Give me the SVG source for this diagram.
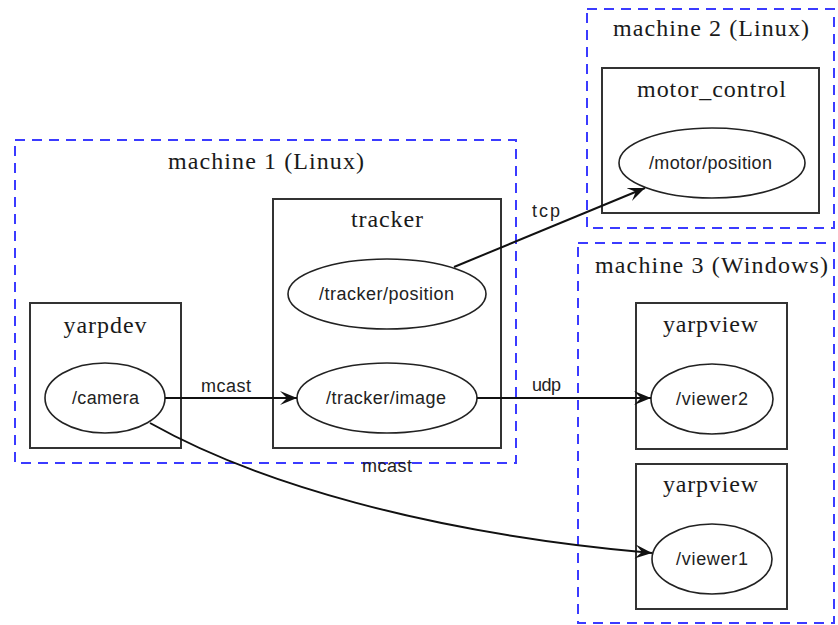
<svg xmlns="http://www.w3.org/2000/svg" width="838" height="625" viewBox="0 0 838 625">
  <style>
    .machine { fill: none; stroke: #3b3bff; stroke-width: 2; stroke-dasharray: 10 7; }
    .proc { fill: #ffffff; stroke: #333333; stroke-width: 2; }
    .port { fill: #ffffff; stroke: #222222; stroke-width: 1.6; }
    .title { font-family: "Liberation Serif", "Times New Roman", serif; font-size: 24px; fill: #1a1a1a; text-anchor: middle; }
    .label { font-family: "Liberation Sans", Arial, sans-serif; font-size: 18px; fill: #222222; text-anchor: middle; }
    .edge { fill: none; stroke: #111111; stroke-width: 2; marker-end: url(#vee); }
  </style>
  <defs>
    <marker id="vee" viewBox="0 0 17 15" refX="17" refY="7.5" markerWidth="17" markerHeight="15" markerUnits="userSpaceOnUse" orient="auto">
      <path d="M0,0.5 L17,7.5 L0,14.5 L7,7.5 Z" fill="#111111"/>
    </marker>
  </defs>
  <rect width="838" height="625" fill="#ffffff"/>

  <!-- machine clusters -->
  <g id="machine1">
    <rect class="machine" x="15" y="140" width="501" height="323"/>
    <text class="title" x="266" y="169" textLength="196" lengthAdjust="spacing">machine 1 (Linux)</text>
  </g>
  <g id="machine2">
    <rect class="machine" x="587" y="9" width="247" height="219"/>
    <text class="title" x="711" y="36" textLength="196" lengthAdjust="spacing">machine 2 (Linux)</text>
  </g>
  <g id="machine3">
    <rect class="machine" x="578" y="243" width="256" height="380"/>
    <text class="title" x="711.5" y="273" textLength="233" lengthAdjust="spacing">machine 3 (Windows)</text>
  </g>

  <!-- processes and their ports -->
  <g id="yarpdev">
    <rect class="proc" x="30" y="303" width="151" height="145"/>
    <text class="title" x="105" y="333" textLength="83" lengthAdjust="spacing">yarpdev</text>
    <ellipse class="port" cx="105" cy="398" rx="60" ry="35"/>
    <text class="label" x="105.5" y="404" textLength="67" lengthAdjust="spacing">/camera</text>
  </g>
  <g id="tracker">
    <rect class="proc" x="273" y="199" width="228" height="249"/>
    <text class="title" x="387" y="227" textLength="72" lengthAdjust="spacing">tracker</text>
    <ellipse class="port" cx="387" cy="294" rx="99" ry="35"/>
    <text class="label" x="386.5" y="300" textLength="135" lengthAdjust="spacing">/tracker/position</text>
    <ellipse class="port" cx="387" cy="398" rx="90" ry="35"/>
    <text class="label" x="386" y="404" textLength="120" lengthAdjust="spacing">/tracker/image</text>
  </g>
  <g id="motor_control">
    <rect class="proc" x="602" y="68" width="217" height="145"/>
    <text class="title" x="711.5" y="97" textLength="149" lengthAdjust="spacing">motor_control</text>
    <ellipse class="port" cx="712" cy="163" rx="93" ry="35"/>
    <text class="label" x="710.5" y="169" textLength="123" lengthAdjust="spacing">/motor/position</text>
  </g>
  <g id="yarpview2">
    <rect class="proc" x="636" y="303" width="151" height="146"/>
    <text class="title" x="710.5" y="332" textLength="95" lengthAdjust="spacing">yarpview</text>
    <ellipse class="port" cx="712" cy="399" rx="61" ry="35"/>
    <text class="label" x="712" y="405" textLength="72" lengthAdjust="spacing">/viewer2</text>
  </g>
  <g id="yarpview1">
    <rect class="proc" x="636" y="464" width="151" height="145"/>
    <text class="title" x="710.5" y="492" textLength="95" lengthAdjust="spacing">yarpview</text>
    <ellipse class="port" cx="712" cy="559" rx="60" ry="35"/>
    <text class="label" x="712" y="565" textLength="72" lengthAdjust="spacing">/viewer1</text>
  </g>

  <!-- connections -->
  <g id="connectors">
    <path class="edge" d="M165,398 L297,398"/>
    <text class="label" x="226" y="392" textLength="50" lengthAdjust="spacing">mcast</text>
    <path class="edge" d="M454,267 L645,188"/>
    <text class="label" x="546" y="217" textLength="28" lengthAdjust="spacing">tcp</text>
    <path class="edge" d="M477,398 L651,398"/>
    <text class="label" x="546.5" y="391" textLength="29" lengthAdjust="spacing">udp</text>
    <path class="edge" d="M150,423 C255,482 425,533 652,553"/>
    <text class="label" x="387" y="472" textLength="50" lengthAdjust="spacing">mcast</text>
  </g>
</svg>
